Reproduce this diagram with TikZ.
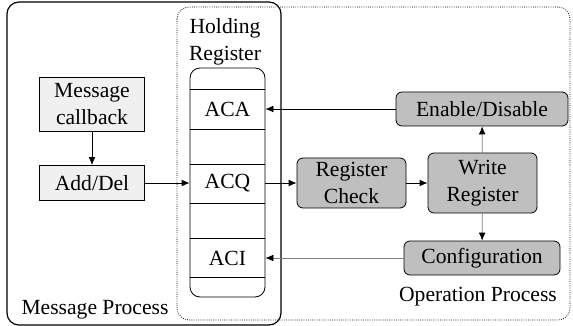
\documentclass[tikz,border=0pt]{standalone}
\usepackage{fontspec}
\setmainfont{LiberationSerif-Regular.ttf}
\usetikzlibrary{arrows.meta}

\begin{document}
\begin{tikzpicture}[x=0.5pt, y=-0.5pt, >={Latex[length=4pt,width=3.4pt,color=black]},
  font=\rmfamily\fontsize{10.8}{13.5}\selectfont,
  msgbox/.style={draw, fill=gray!12, align=center, inner sep=1pt},
  opbox/.style={draw, fill=gray!50, rounded corners=3pt, align=center, inner sep=1pt},
  regcell/.style={minimum width=37.5pt, minimum height=19pt, inner sep=0pt}]
  \useasboundingbox (0,0) rectangle (573,326);
  % process frames
  \draw[line width=0.6pt, rounded corners=6pt] (7,2) rectangle (281,325);
  \draw[dash pattern=on 0.4pt off 0.7pt, rounded corners=6pt] (177,7) rectangle (570,320);
  \node (msgproc) at (95,310) {Message Process};
  \node (opproc) at (478,297) {Operation Process};
  % holding register stack
  \node[align=center] (holding) at (225,42) {Holding\\Register};
  \draw[rounded corners=5pt] (190,68) rectangle (265,297);
  \foreach \y in {89,129,164,203,238,277}
    \draw (190,\y) -- (265,\y);
  \node[regcell] (aca) at (227.5,109) {ACA};
  \node[regcell] (acq) at (227.5,183) {ACQ};
  \node[regcell] (aci) at (227.5,258) {ACI};
  % message side
  \node[msgbox, minimum width=52.5pt, minimum height=27pt] (callback) at (92,104) {Message\\callback};
  \node[msgbox, minimum width=52.5pt, minimum height=17.5pt] (adddel) at (92,183) {Add/Del};
  % operation side
  \node[opbox, minimum width=86pt, minimum height=17pt] (enable) at (482,109) {Enable/Disable};
  \node[opbox, minimum width=54.5pt, minimum height=25pt] (check) at (351.5,183) {Register\\Check};
  \node[opbox, minimum width=54.5pt, minimum height=30pt] (write) at (482.5,183) {Write\\Register};
  \node[opbox, minimum width=78pt, minimum height=17pt] (config) at (482,258) {Configuration};
  % connectors
  \draw[->] (callback) -- (adddel);
  \draw[->] (adddel) -- (acq);
  \draw[->] (acq) -- (check);
  \draw[->] (check) -- (write);
  \draw[->, gray] (write) -- (enable);
  \draw[->, gray] (write) -- (config);
  \draw[->] (enable) -- (aca);
  \draw[->, gray] (config) -- (aci);
\end{tikzpicture}
\end{document}
